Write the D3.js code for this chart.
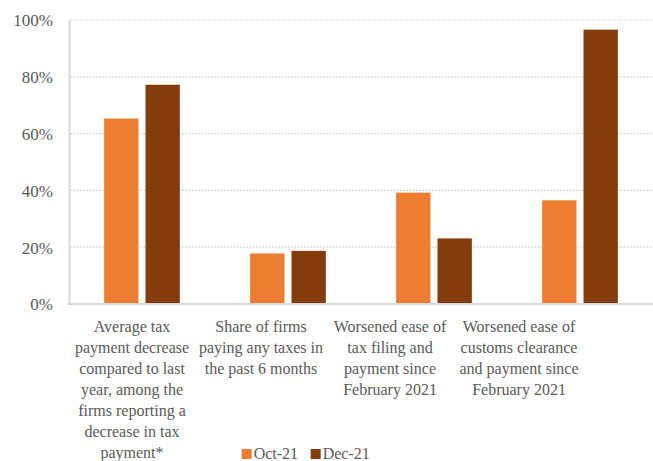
<!DOCTYPE html>
<html>
<head>
<meta charset="utf-8">
<script src="https://cdn.jsdelivr.net/npm/d3@7"></script>
<style>
  html, body { margin: 0; padding: 0; background: #fff; }
  svg { display: block; }
</style>
</head>
<body>
<svg id="chart" width="653" height="461"></svg>
<script>
// Survey indicators (share of firms)
const categories = ["avgDecrease", "sharePaying", "taxFiling", "customs"];
const categoryLines = [
  ["Average tax", "payment decrease", "compared to last", "year, among the", "firms reporting a", "decrease in tax", "payment*"],
  ["Share of firms", "paying any taxes in", "the past 6 months"],
  ["Worsened ease of", "tax filing and", "payment since", "February 2021"],
  ["Worsened ease of", "customs clearance", "and payment since", "February 2021"]
];
const seriesNames = ["Oct-21", "Dec-21"];
const oct21 = [65.3, 17.8, 39.2, 36.5];
const dec21 = [77.2, 18.7, 23.1, 96.6];
const yTicks = [0, 20, 40, 60, 80, 100];
const colors = ["#ED7D31", "#843C0C"];

const FONT = "Liberation Serif";
const TEXT_COLOR = "#595959";

const svg = d3.select("#chart");
const margin = { left: 69, right: 0, top: 20, bottom: 157 };
const W = 653, H = 461;
const plotBottom = H - margin.bottom;

const x0 = d3.scaleBand().domain(categories).range([margin.left, W - margin.right]).padding(0);
const x1 = d3.scaleBand().domain(seriesNames).range([0, x0.bandwidth()]).paddingInner(0.17).paddingOuter(0.85);
const y = d3.scaleLinear().domain([0, 100]).range([plotBottom, margin.top]);
// category labels sit on their own, slightly narrower spacing
const xLabel = d3.scaleBand().domain(categories).range([67.5, 583.5]);

// dotted gridlines
svg.append("g")
  .selectAll("line")
  .data(yTicks.filter(t => t > 0))
  .join("line")
  .attr("x1", margin.left + 1).attr("x2", W)
  .attr("y1", d => y(d)).attr("y2", d => y(d))
  .attr("stroke", "#d4d4d4").attr("stroke-width", 1.2)
  .attr("stroke-dasharray", "2,1.2");

// y axis
const yAxis = d3.axisLeft(y).tickValues(yTicks).tickFormat(d => d + "%").tickSize(0).tickPadding(16);
const gy = svg.append("g").attr("transform", `translate(${margin.left},0)`).call(yAxis);
gy.attr("font-family", FONT).attr("font-size", 17);
gy.select(".domain").attr("stroke", "#d9d9d9").attr("stroke-width", 2);
gy.selectAll("text")
  .style("font-family", FONT).style("font-size", "17px")
  .attr("fill", TEXT_COLOR).attr("dy", "0.35em");

// bars
const rows = categories.map((c, i) => ({ cat: c, vals: [oct21[i], dec21[i]] }));
const groups = svg.append("g").selectAll("g")
  .data(rows).join("g")
  .attr("transform", d => `translate(${x0(d.cat)},0)`);
groups.selectAll("rect")
  .data(d => d.vals.map((v, j) => ({ s: seriesNames[j], v, j })))
  .join("rect")
  .attr("x", d => x1(d.s))
  .attr("width", x1.bandwidth())
  .attr("y", d => y(d.v))
  .attr("height", d => y(0) - y(d.v))
  .attr("fill", d => colors[d.j]);

// x baseline
svg.append("line")
  .attr("x1", margin.left - 1).attr("x2", W)
  .attr("y1", y(0)).attr("y2", y(0))
  .attr("stroke", "#d9d9d9").attr("stroke-width", 2);

// category labels
const lineH = 21;
const labels = svg.append("g").selectAll("text")
  .data(categories).join("text")
  .attr("text-anchor", "middle")
  .style("font-family", FONT).style("font-size", "16px")
  .attr("fill", TEXT_COLOR)
  .attr("transform", d => `translate(${xLabel(d) + xLabel.bandwidth() / 2},${plotBottom + 28})`);
labels.selectAll("tspan")
  .data((d, i) => categoryLines[i])
  .join("tspan")
  .attr("x", 0)
  .attr("y", (d, i) => i * lineH)
  .text(d => d);

// legend
const legend = svg.append("g").attr("transform", "translate(0,459)");
const legendX = [241.7, 310.7];
seriesNames.forEach((s, j) => {
  legend.append("rect").attr("x", legendX[j]).attr("y", -10).attr("width", 10).attr("height", 10).attr("fill", colors[j]);
  legend.append("text").attr("x", legendX[j] + 12).attr("y", 0)
    .style("font-family", FONT).style("font-size", "16px")
    .attr("fill", TEXT_COLOR).text(s);
});
</script>
</body>
</html>
